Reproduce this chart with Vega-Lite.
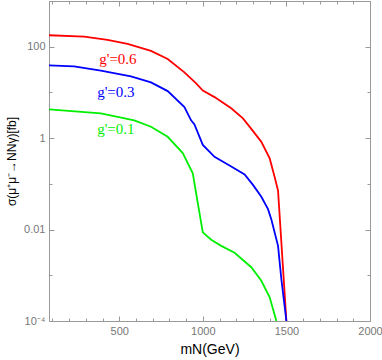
{
  "$schema": "https://vega.github.io/schema/vega-lite/v6.json",
  "width": 321,
  "height": 320,
  "autosize": {"type": "none"},
  "padding": {"left": 49, "top": 1, "right": 12, "bottom": 39},
  "background": "white",
  "config": {
    "view": {"stroke": "#999999", "strokeWidth": 1},
    "axis": {
      "domain": false,
      "grid": false,
      "labelColor": "#777777",
      "labelFont": "Liberation Sans",
      "labelFontSize": 11,
      "tickColor": "#999999",
      "tickWidth": 1,
      "titleFont": "Liberation Sans",
      "titleFontWeight": "normal",
      "titleColor": "#000000",
      "titleFontSize": 14
    }
  },
  "datasets": {
    "curves": [
      {"series": "0.6", "m": 80, "s": 178},
      {"series": "0.6", "m": 290, "s": 166},
      {"series": "0.6", "m": 430, "s": 141},
      {"series": "0.6", "m": 550, "s": 115},
      {"series": "0.6", "m": 690, "s": 81},
      {"series": "0.6", "m": 790, "s": 54},
      {"series": "0.6", "m": 890, "s": 27.5},
      {"series": "0.6", "m": 960, "s": 15.8},
      {"series": "0.6", "m": 1000, "s": 11},
      {"series": "0.6", "m": 1070, "s": 7.9},
      {"series": "0.6", "m": 1170, "s": 4.5},
      {"series": "0.6", "m": 1240, "s": 2.7},
      {"series": "0.6", "m": 1290, "s": 1.6},
      {"series": "0.6", "m": 1350, "s": 0.83},
      {"series": "0.6", "m": 1400, "s": 0.36},
      {"series": "0.6", "m": 1430, "s": 0.14},
      {"series": "0.6", "m": 1450, "s": 0.071},
      {"series": "0.6", "m": 1500, "s": 0.0001},
      {"series": "0.3", "m": 80, "s": 38.9},
      {"series": "0.3", "m": 230, "s": 37},
      {"series": "0.3", "m": 390, "s": 30},
      {"series": "0.3", "m": 570, "s": 22.4},
      {"series": "0.3", "m": 690, "s": 16.6},
      {"series": "0.3", "m": 790, "s": 10.7},
      {"series": "0.3", "m": 890, "s": 4.8},
      {"series": "0.3", "m": 930, "s": 2.45},
      {"series": "0.3", "m": 950, "s": 2.0},
      {"series": "0.3", "m": 1000, "s": 0.71},
      {"series": "0.3", "m": 1070, "s": 0.39},
      {"series": "0.3", "m": 1170, "s": 0.24},
      {"series": "0.3", "m": 1250, "s": 0.16},
      {"series": "0.3", "m": 1300, "s": 0.095},
      {"series": "0.3", "m": 1350, "s": 0.052},
      {"series": "0.3", "m": 1390, "s": 0.028},
      {"series": "0.3", "m": 1410, "s": 0.0166},
      {"series": "0.3", "m": 1450, "s": 0.0044},
      {"series": "0.3", "m": 1470, "s": 0.00081},
      {"series": "0.3", "m": 1500, "s": 0.0001},
      {"series": "0.1", "m": 80, "s": 4.27},
      {"series": "0.1", "m": 390, "s": 3.47},
      {"series": "0.1", "m": 590, "s": 2.45},
      {"series": "0.1", "m": 690, "s": 1.78},
      {"series": "0.1", "m": 790, "s": 1.07},
      {"series": "0.1", "m": 880, "s": 0.47},
      {"series": "0.1", "m": 940, "s": 0.17},
      {"series": "0.1", "m": 970, "s": 0.038},
      {"series": "0.1", "m": 1000, "s": 0.0087},
      {"series": "0.1", "m": 1050, "s": 0.006},
      {"series": "0.1", "m": 1110, "s": 0.0044},
      {"series": "0.1", "m": 1190, "s": 0.0031},
      {"series": "0.1", "m": 1290, "s": 0.0015},
      {"series": "0.1", "m": 1350, "s": 0.00076},
      {"series": "0.1", "m": 1400, "s": 0.00033},
      {"series": "0.1", "m": 1440, "s": 0.0001}
    ],
    "labels": [
      {"series": "0.6", "m": 492, "s": 55, "label": "g'=0.6"},
      {"series": "0.3", "m": 480, "s": 10, "label": "g'=0.3"},
      {"series": "0.1", "m": 480, "s": 1.55, "label": "g'=0.1"}
    ]
  },
  "layer": [
    {
      "data": {"name": "curves"},
      "mark": {"type": "line", "strokeWidth": 1.8, "clip": true},
      "encoding": {
        "x": {
          "field": "m", "type": "quantitative",
          "scale": {"domain": [80, 2000], "nice": false, "zero": false},
          "axis": {
            "orient": "bottom",
            "title": "mN(GeV)",
            "format": "d",
            "values": [100,200,300,400,500,600,700,800,900,1000,1100,1200,1300,1400,1500,1600,1700,1800,1900,2000],
            "labelExpr": "datum.value % 500 === 0 ? datum.label : ''",
            "tickSize": {"condition": {"test": "datum.value % 500 === 0", "value": -5}, "value": -3},
            "labelPadding": 9,
            "labelFlush": false,
            "labelOverlap": false,
            "titlePadding": 4
          }
        },
        "y": {
          "field": "s", "type": "quantitative",
          "scale": {"type": "log", "domain": [0.0001, 1000], "nice": false},
          "axis": {
            "orient": "left",
            "title": "σ(μ⁺μ⁻→NNγ)[fb]",
            "titleFontSize": 12,
            "values": [0.0001, 0.001, 0.01, 0.1, 1, 10, 100, 1000],
            "labelExpr": "datum.value === 0.0001 ? '10⁻⁴' : (datum.value === 0.01 ? '0.01' : (datum.value === 1 ? '1' : (datum.value === 100 ? '100' : '')))",
            "tickSize": {"condition": {"test": "datum.value === 0.0001 || datum.value === 0.01 || datum.value === 1 || datum.value === 100", "value": -5}, "value": -3},
            "labelPadding": 9,
            "labelFlush": false,
            "labelOverlap": false,
            "titlePadding": 5
          }
        },
        "color": {
          "field": "series", "type": "nominal",
          "scale": {"domain": ["0.6", "0.3", "0.1"], "range": ["#ff0000", "#0000ff", "#00ee00"]},
          "legend": null
        }
      }
    },
    {
      "data": {"name": "labels"},
      "mark": {"type": "text", "font": "Liberation Serif", "fontSize": 15},
      "encoding": {
        "x": {
          "field": "m", "type": "quantitative",
          "axis": {
            "orient": "top", "title": null, "labels": false,
            "values": [100,200,300,400,500,600,700,800,900,1000,1100,1200,1300,1400,1500,1600,1700,1800,1900,2000],
            "tickSize": {"condition": {"test": "datum.value % 500 === 0", "value": -5}, "value": -3}
          }
        },
        "y": {
          "field": "s", "type": "quantitative",
          "axis": {
            "orient": "right", "title": null, "labels": false,
            "values": [0.0001, 0.001, 0.01, 0.1, 1, 10, 100, 1000],
            "tickSize": {"condition": {"test": "datum.value === 0.0001 || datum.value === 0.01 || datum.value === 1 || datum.value === 100", "value": -5}, "value": -3}
          }
        },
        "text": {"field": "label", "type": "nominal"},
        "color": {"field": "series", "type": "nominal", "legend": null}
      }
    }
  ],
  "resolve": {"axis": {"x": "independent", "y": "independent"}}
}
